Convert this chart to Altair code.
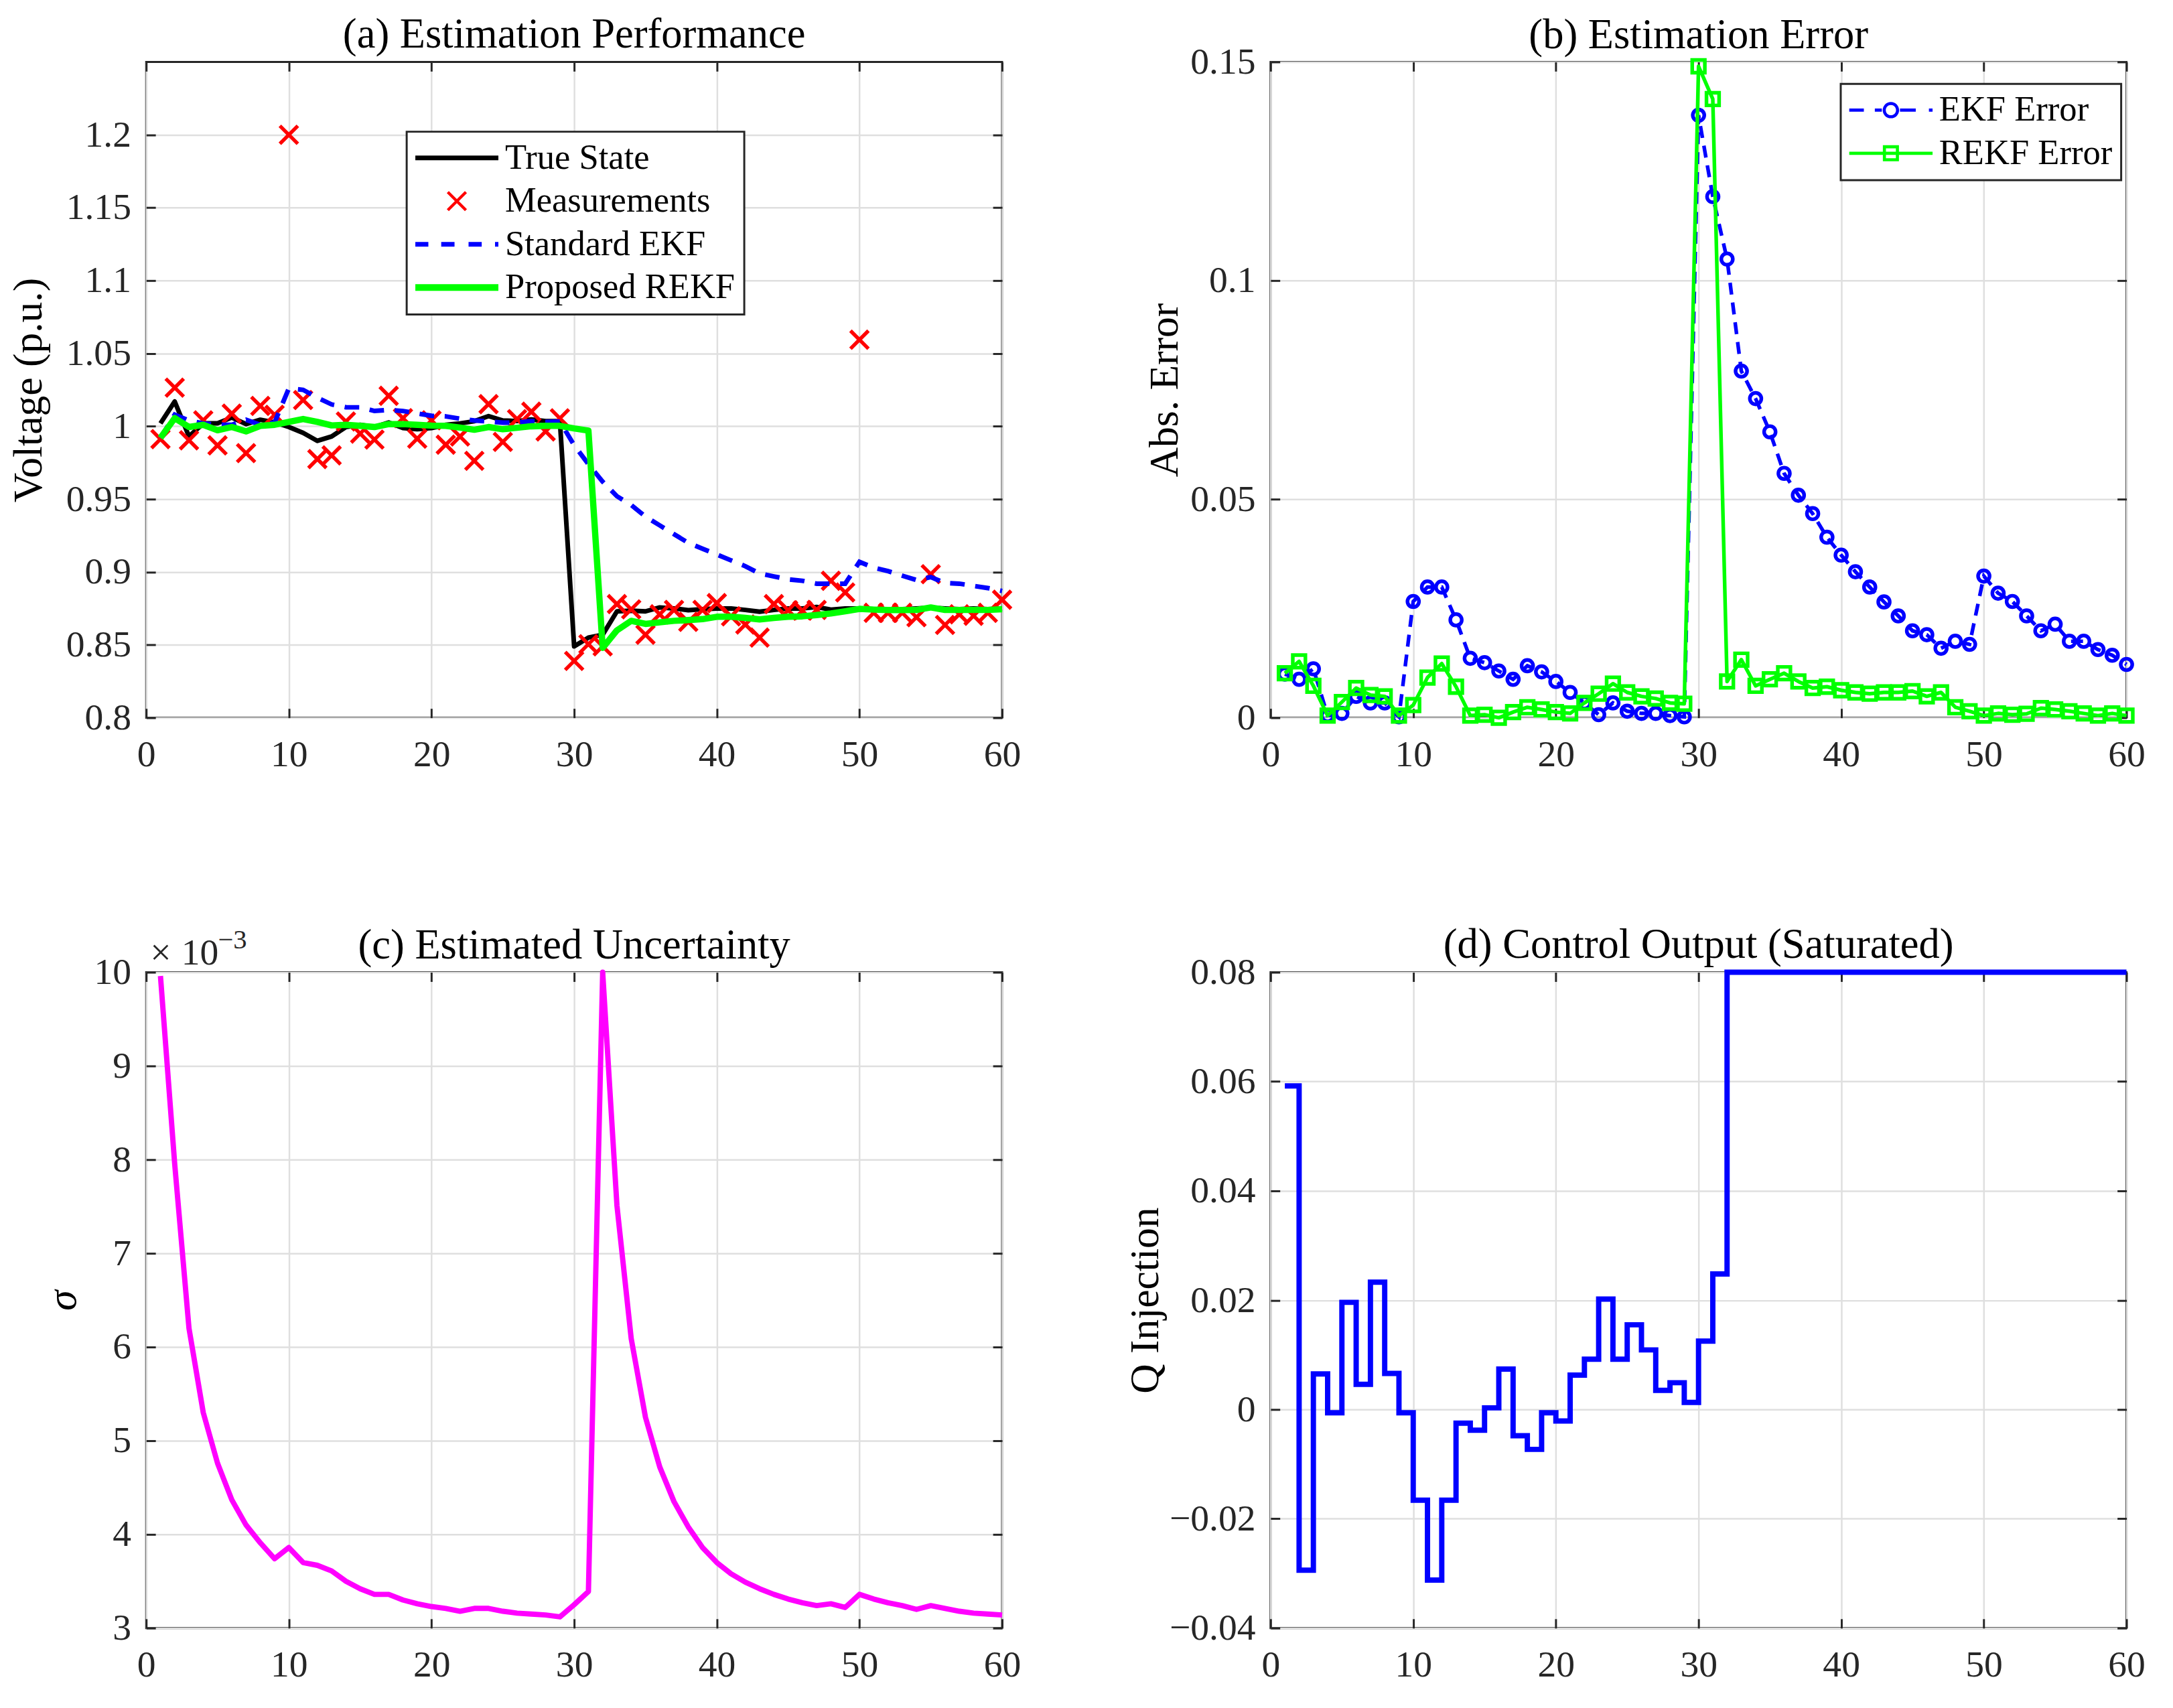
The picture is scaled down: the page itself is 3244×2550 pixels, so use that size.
import altair as alt
import pandas as pd

# ---------------- data ----------------
STEPS = list(range(1, 61))

TRUE_STATE = [1.002, 1.017, 0.993, 1.002, 1.002, 1.006, 1.0015, 1.0045, 1.0026, 0.9995,
              0.9955, 0.990, 0.993, 0.9995, 1.001, 0.9995, 1.0026, 0.9988, 0.998, 0.9988,
              1.001, 1.002, 1.0035, 1.007, 1.004, 1.0036, 1.0047, 1.0035, 1.0035, 0.849,
              0.855, 0.857, 0.873, 0.8735, 0.873, 0.8757, 0.875, 0.8738, 0.8745, 0.875,
              0.875, 0.874, 0.8728, 0.874, 0.875, 0.875, 0.876, 0.8742, 0.875, 0.875,
              0.8745, 0.874, 0.8745, 0.875, 0.8755, 0.875, 0.8745, 0.875, 0.8745, 0.875]

MEAS = [0.9912, 1.0265, 0.9904, 1.0041, 0.9869, 1.0087, 0.9816, 1.0140, 1.0079, 1.2000,
        1.0180, 0.9775, 0.9800, 1.0033, 0.9950, 0.9909, 1.0209, 1.0056, 0.9915, 1.0041,
        0.9874, 0.9930, 0.9763, 1.0152, 0.9893, 1.0049, 1.0100, 0.9965, 1.0055, 0.8390,
        0.8505, 0.8490, 0.8780, 0.8744, 0.8570, 0.8710, 0.8740, 0.8658, 0.8740, 0.8787,
        0.8696, 0.8640, 0.8550, 0.8780, 0.8738, 0.8735, 0.8740, 0.8940, 0.8860, 1.0594,
        0.8720, 0.8720, 0.8720, 0.8690, 0.8985, 0.8637, 0.8710, 0.8700, 0.8720, 0.8810]

EKF = [0.992, 1.008, 1.004, 1.002, 1.001, 1.001, 1.0045, 1.001, 1.0026, 1.026,
       1.025, 1.0196, 1.015, 1.0131, 1.013, 1.0105, 1.0112, 1.0105, 1.0088, 1.0072,
       1.0068, 1.0052, 1.004, 1.0033, 1.0025, 1.0025, 1.0035, 1.003, 1.0033, 0.987,
       0.974, 0.962, 0.952, 0.946, 0.938, 0.932, 0.926, 0.920, 0.916, 0.912,
       0.908, 0.904, 0.899, 0.897, 0.895, 0.894, 0.892, 0.892, 0.892, 0.907,
       0.903, 0.9006, 0.8975, 0.8945, 0.8965, 0.8925, 0.892, 0.8905, 0.889, 0.887]

REKF = [0.992, 1.0056, 0.9995, 1.001, 0.9973, 0.9995, 0.9965, 1.0003, 1.001, 1.003,
        1.005, 1.003, 1.0006, 1.001, 1.0003, 0.9995, 1.0015, 1.0015, 1.001, 1.0005,
        1.0003, 0.9991, 0.9976, 0.9995, 0.998, 0.999, 1.0, 1.0003, 1.0003, 0.9985,
        0.997, 0.848, 0.860, 0.8665, 0.8644, 0.8655, 0.8665, 0.867, 0.8677, 0.8693,
        0.8693, 0.8685, 0.8675, 0.8685, 0.8693, 0.8696, 0.8705, 0.8716, 0.8731, 0.8747,
        0.8742, 0.8739, 0.8739, 0.874, 0.8757, 0.874, 0.874, 0.874, 0.874, 0.8745]

ERR_EKF = [0.0100, 0.0088, 0.0112, 0.0005, 0.0010, 0.0049, 0.0034, 0.0034, 0.0002, 0.0266,
           0.0299, 0.0299, 0.0224, 0.0136, 0.0126, 0.0107, 0.0088, 0.0119, 0.0105, 0.0083,
           0.0058, 0.0034, 0.0007, 0.0034, 0.0015, 0.0010, 0.0010, 0.0005, 0.0002, 0.1378,
           0.1192, 0.1049, 0.0793, 0.0730, 0.0654, 0.0559, 0.0509, 0.0467, 0.0413, 0.0372,
           0.0334, 0.0299, 0.0265, 0.0233, 0.0199, 0.0190, 0.0159, 0.0175, 0.0168, 0.0324,
           0.0285, 0.0266, 0.0233, 0.0199, 0.0214, 0.0175, 0.0175, 0.0156, 0.0143, 0.0122]

ERR_REKF = [0.0102, 0.0129, 0.0073, 0.0005, 0.0036, 0.0068, 0.0052, 0.0049, 0.0005, 0.0029,
            0.0092, 0.0124, 0.0071, 0.0005, 0.0007, 0.0000, 0.0013, 0.0024, 0.0019, 0.0013,
            0.0010, 0.0034, 0.0055, 0.0078, 0.0058, 0.0049, 0.0044, 0.0034, 0.0032, 0.1490,
            0.1415, 0.0083, 0.0133, 0.0073, 0.0088, 0.0102, 0.0083, 0.0068, 0.0071, 0.0063,
            0.0058, 0.0055, 0.0058, 0.0058, 0.0061, 0.0049, 0.0058, 0.0024, 0.0015, 0.0005,
            0.0010, 0.0007, 0.0009, 0.0022, 0.0019, 0.0015, 0.0010, 0.0005, 0.0010, 0.0005]

SIGMA_MILLI = [9.96, 7.95, 6.20, 5.30, 4.76, 4.37, 4.10, 3.91, 3.74, 3.86,
               3.70, 3.67, 3.61, 3.50, 3.42, 3.36, 3.36, 3.30, 3.26, 3.23,
               3.21, 3.18, 3.21, 3.21, 3.18, 3.16, 3.15, 3.14, 3.12, 3.25,
               3.39, 10.0, 7.51, 6.09, 5.25, 4.72, 4.35, 4.08, 3.86, 3.70,
               3.58, 3.49, 3.42, 3.36, 3.31, 3.27, 3.24, 3.26, 3.22, 3.36,
               3.31, 3.27, 3.24, 3.20, 3.24, 3.21, 3.18, 3.16, 3.15, 3.14]

Q_INJ = [0.0592, -0.0294, 0.0065, -0.0006, 0.0196, 0.0046, 0.0233, 0.0066, -0.0006, -0.0166,
         -0.0312, -0.0166, -0.0025, -0.0038, 0.0003, 0.0074, -0.0048, -0.0073, -0.0006, -0.0021,
         0.0063, 0.0092, 0.0202, 0.0092, 0.0155, 0.0109, 0.0035, 0.0049, 0.0013, 0.0125,
         0.0248] + [0.08] * 29

SER_A = ["True State", "Measurements", "Standard EKF", "Proposed REKF"]
COL_A = ["#000000", "#ff0000", "#0000ff", "#00ff00"]
SER_B = ["EKF Error", "REKF Error"]
COL_B = ["#0000ff", "#00ff00"]

XTICKS = [0, 10, 20, 30, 40, 50, 60]
YT_A = [0.8, 0.85, 0.9, 0.95, 1.0, 1.05, 1.1, 1.15, 1.2]
YT_B = [0, 0.05, 0.1, 0.15]
YT_C = [0.003, 0.004, 0.005, 0.006, 0.007, 0.008, 0.009, 0.010]
YT_D = [-0.04, -0.02, 0, 0.02, 0.04, 0.06, 0.08]

# ---------------- styling ----------------
FONT = "Liberation Serif"
AX = "#262626"
GRID = "#dfdfdf"
W, H = 1288, 987
TICK = 14

AXIS_COMMON = dict(domain=False, grid=True, gridColor=GRID, gridWidth=2.5,
                   ticks=True, tickColor=AX, tickWidth=3, tickSize=TICK, offset=-TICK,
                   labelFont=FONT, labelFontSize=56, labelColor=AX,
                   labelFlush=False, labelOverlap=False,
                   titleFont=FONT, titleFontSize=62, titleFontWeight="normal",
                   titleColor="black")

# data marker: an "x"
XPATH = "M-1,-1L1,1M1,-1L-1,1"

# legend glyphs, drawn as filled outlines (unit = 22 px)
LEG_SOLID7 = "M-2.84,-0.16H2.84V0.16H-2.84Z"
LEG_SOLID10 = "M-2.84,-0.23H2.84V0.23H-2.84Z"
LEG_DASH7 = ("M-2.84,-0.16H-1.95V0.16H-2.84Z M-1.07,-0.16H-0.16V0.16H-1.07Z "
             "M0.8,-0.16H1.7V0.16H0.8Z M2.61,-0.16H2.84V0.16H2.61Z")
LEG_CROSS = ("M0.549,0.691L0.691,0.549L-0.549,-0.691L-0.691,-0.549Z "
             "M0.691,-0.549L0.549,-0.691L-0.691,0.549L-0.549,0.691Z")
LEG_EKF_B = ("M-2.85,-0.11H-1.85V0.11H-2.85Z M-1.1,-0.11H-0.62V0.11H-1.1Z "
             "M0.62,-0.11H1.7V0.11H0.62Z M2.6,-0.11H2.85V0.11H2.6Z "
             "M0.56,0A0.56,0.56 0 1 1 -0.56,0A0.56,0.56 0 1 1 0.56,0Z "
             "M0.35,0A0.35,0.35 0 1 0 -0.35,0A0.35,0.35 0 1 0 0.35,0Z")
LEG_REKF_B = ("M-2.85,-0.11H2.85V0.11H-2.85Z "
              "M-0.55,-0.55H0.55V0.55H-0.55Z M-0.34,-0.34V0.34H0.34V-0.34Z")


def x_enc():
    return alt.X("k:Q", scale=alt.Scale(domain=[0, 60], nice=False, zero=False),
                 axis=alt.Axis(orient="bottom", values=XTICKS, labelPadding=28,
                               title=None, **AXIS_COMMON))


def y_enc(field, dom, values, title, tpad, expr, italic=False):
    extra = {"titleFontStyle": "italic"} if italic else {}
    return alt.Y(f"{field}:Q", scale=alt.Scale(domain=list(dom), nice=False, zero=False),
                 axis=alt.Axis(orient="left", values=values, labelExpr=expr, labelPadding=23,
                               title=title, titlePadding=tpad, **AXIS_COMMON, **extra))


def frame(df, field, dom, values):
    fr = dict(domain=False, grid=False, labels=False, ticks=True, tickColor=AX,
              tickWidth=3, tickSize=TICK, offset=-TICK, title=None)
    return alt.Chart(df).mark_point(opacity=0).encode(
        x=alt.X("k:Q", scale=alt.Scale(domain=[0, 60], nice=False, zero=False),
                axis=alt.Axis(orient="top", values=XTICKS, **fr)),
        y=alt.Y(f"{field}:Q", scale=alt.Scale(domain=list(dom), nice=False, zero=False),
                axis=alt.Axis(orient="right", values=values, **fr)),
    )


def title(text, off):
    return alt.TitleParams(text=text, font=FONT, fontSize=63, fontWeight="normal",
                           color="black", anchor="middle", baseline="alphabetic", offset=off)


def legend(x, y):
    return alt.Legend(title=None, orient="none", legendX=x, legendY=y, direction="vertical",
                      labelFont=FONT, labelFontSize=53, labelColor="black", labelLimit=1000,
                      symbolSize=1936, symbolOffset=36, labelOffset=46, rowPadding=11,
                      padding=13, strokeColor=AX, fillColor="white",
                      symbolStrokeWidth=0, symbolOpacity=1)


# ---------------- panel (a) ----------------
leg_a = legend(392, 105)
df_true = pd.DataFrame({"k": STEPS, "v": TRUE_STATE, "s": SER_A[0]})
df_meas = pd.DataFrame({"k": STEPS, "v": MEAS, "s": SER_A[1]})
df_ekf = pd.DataFrame({"k": STEPS, "v": EKF, "s": SER_A[2]})
df_rekf = pd.DataFrame({"k": STEPS, "v": REKF, "s": SER_A[3]})

xa = x_enc()
ya = y_enc("v", (0.8, 1.25), YT_A, "Voltage (p.u.)", 24, "format(datum.value, '.2~f')")

a_true = alt.Chart(df_true).mark_line(color=COL_A[0], strokeWidth=7, strokeJoin="round").encode(x=xa, y=ya)
a_meas = alt.Chart(df_meas).mark_point(shape=XPATH, size=730, filled=False, strokeWidth=5.5,
                                       color=COL_A[1], opacity=1).encode(x=xa, y=ya)
a_ekf = alt.Chart(df_ekf).mark_line(color=COL_A[2], strokeWidth=7, strokeDash=[22, 16]).encode(x=xa, y=ya)
a_rekf = alt.Chart(df_rekf).mark_line(color=COL_A[3], strokeWidth=9.5, strokeJoin="round").encode(x=xa, y=ya)
# legend carrier: all rows filtered out, so it only produces the legend
a_leg = alt.Chart(df_true).transform_filter("false").mark_point(filled=True, opacity=1).encode(
    x=xa, y=ya,
    color=alt.Color("s:N", scale=alt.Scale(domain=SER_A, range=COL_A), legend=leg_a),
    shape=alt.Shape("s:N", scale=alt.Scale(domain=SER_A,
                                           range=[LEG_SOLID7, LEG_CROSS, LEG_DASH7, LEG_SOLID10]),
                    legend=leg_a),
)

panel_a = alt.layer(
    alt.layer(a_true, a_meas, a_ekf, a_rekf, a_leg),
    frame(df_true, "v", (0.8, 1.25), YT_A),
).resolve_scale(x="independent", y="independent").properties(
    width=W, height=H, title=title("(a) Estimation Performance", -43))

# ---------------- panel (b) ----------------
leg_b = legend(858, 33)
df_eb = pd.DataFrame({"k": STEPS, "e": ERR_EKF, "s": SER_B[0]})
df_rb = pd.DataFrame({"k": STEPS, "e": ERR_REKF, "s": SER_B[1]})
xb = x_enc()
yb = y_enc("e", (0, 0.15), YT_B, "Abs. Error", 6, "format(datum.value, '.2~f')")

b_ekf_l = alt.Chart(df_eb).mark_line(color=COL_B[0], strokeWidth=5.5, strokeDash=[18, 12]).encode(x=xb, y=yb)
b_ekf_p = alt.Chart(df_eb).mark_point(shape="circle", size=300, filled=False, strokeWidth=5.5,
                                      color=COL_B[0], opacity=1).encode(x=xb, y=yb)
b_rekf_l = alt.Chart(df_rb).mark_line(color=COL_B[1], strokeWidth=5.5, strokeJoin="round").encode(x=xb, y=yb)
b_rekf_p = alt.Chart(df_rb).mark_point(shape="square", size=360, filled=False, strokeWidth=5.5,
                                       color=COL_B[1], opacity=1).encode(x=xb, y=yb)
b_leg = alt.Chart(df_eb).transform_filter("false").mark_point(filled=True, opacity=1).encode(
    x=xb, y=yb,
    color=alt.Color("s:N", scale=alt.Scale(domain=SER_B, range=COL_B), legend=leg_b),
    shape=alt.Shape("s:N", scale=alt.Scale(domain=SER_B, range=[LEG_EKF_B, LEG_REKF_B]), legend=leg_b),
)

panel_b = alt.layer(
    alt.layer(b_ekf_l, b_ekf_p, b_rekf_l, b_rekf_p, b_leg),
    frame(df_eb, "e", (0, 0.15), YT_B),
).resolve_scale(x="independent", y="independent").properties(
    width=W, height=H, title=title("(b) Estimation Error", -70))

# ---------------- panel (c) ----------------
df_sig = pd.DataFrame({"k": STEPS, "sg": [v * 1e-3 for v in SIGMA_MILLI]})
df_exp = pd.DataFrame({"k": [0], "sg": [0.010]})
xc = x_enc()
yc = y_enc("sg", (0.003, 0.010), YT_C, "σ", 15, "format(datum.value * 1000, '~g')", italic=True)

c_line = alt.Chart(df_sig).mark_line(color="#ff00ff", strokeWidth=8, strokeJoin="round").encode(x=xc, y=yc)
c_times = alt.Chart(df_exp).mark_text(text="×", align="left", baseline="alphabetic", dx=6, dy=-12,
                                      font=FONT, fontSize=56, color=AX).encode(x=xc, y=yc)
c_ten = alt.Chart(df_exp).mark_text(text="10", align="left", baseline="alphabetic", dx=53, dy=-12,
                                    font=FONT, fontSize=56, color=AX).encode(x=xc, y=yc)
c_pow = alt.Chart(df_exp).mark_text(text="−3", align="left", baseline="alphabetic", dx=108, dy=-36,
                                    font=FONT, fontSize=41, color=AX).encode(x=xc, y=yc)

panel_c = alt.layer(
    alt.layer(c_line, c_times, c_ten, c_pow),
    frame(df_sig, "sg", (0.003, 0.010), YT_C),
).resolve_scale(x="independent", y="independent").properties(
    width=W, height=H, title=title("(c) Estimated Uncertainty", -111))

# ---------------- panel (d) ----------------
df_q = pd.DataFrame({"k": STEPS, "q": Q_INJ})
xd = x_enc()
yd = y_enc("q", (-0.04, 0.08), YT_D, "Q Injection", 4, "format(datum.value, '.2~f')")
d_line = alt.Chart(df_q).mark_line(interpolate="step-after", color="#0000ff", strokeWidth=8).encode(x=xd, y=yd)

panel_d = alt.layer(
    d_line,
    frame(df_q, "q", (-0.04, 0.08), YT_D),
).resolve_scale(x="independent", y="independent").properties(
    width=W, height=H, title=title("(d) Control Output (Saturated)", -69))

# ---------------- assemble ----------------
chart = alt.concat(
    panel_a, panel_b, panel_c, panel_d,
    columns=2, spacing={"row": 383, "column": 404}, bounds="flush",
).resolve_scale(
    color="independent", shape="independent"
).properties(
    background="white", padding={"left": 10, "top": 10, "right": 40, "bottom": 20}
).configure_view(stroke=AX, strokeWidth=3).configure_legend(strokeWidth=3)

chart.save("out.html", embed_options={"renderer": "svg", "actions": False})
